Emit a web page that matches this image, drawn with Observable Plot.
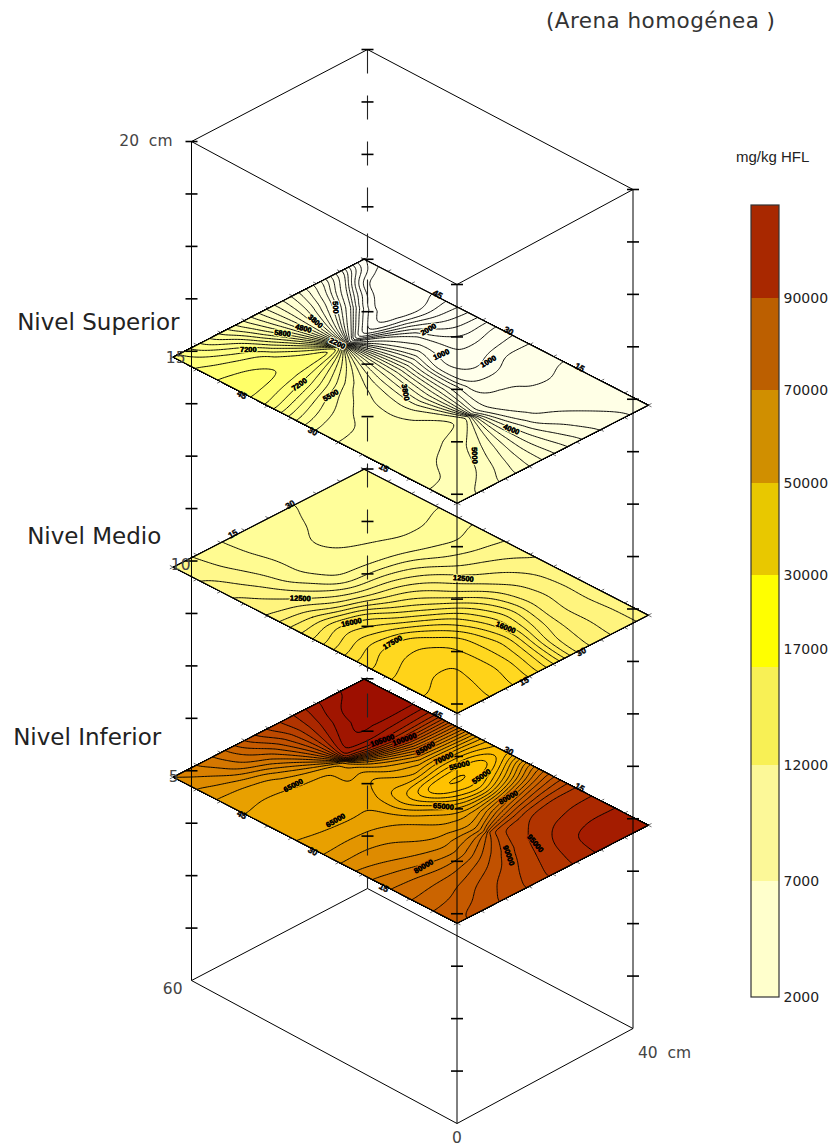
<!DOCTYPE html>
<html><head><meta charset="utf-8">
<script src="https://cdn.jsdelivr.net/npm/d3@7"></script>
<script src="https://cdn.jsdelivr.net/npm/@observablehq/plot@0.6"></script>
<style>
body{margin:0;background:#fff}
#wrap{position:relative;width:828px;height:1147px;overflow:hidden}
#wrap svg{position:absolute;left:0;top:0;display:block;background:transparent}
#title{position:absolute;left:546px;top:8px;font:21.5px "DejaVu Sans";color:#333;white-space:pre;letter-spacing:.45px}
#unit{position:absolute;left:736px;top:148px;font:15px "Liberation Sans";color:#222;white-space:pre}
</style></head><body>
<div id="wrap"><div id="title">(Arena homogénea )</div><div id="unit">mg/kg HFL</div></div>
<script>
// HFL concentration (mg/kg) read at the 5 cm nodes: rows 0-60 cm, columns 0-40 cm
const nivelSuperior = [
[4650,4410,4070,3600,3050,2520,2100,1860,1650],
[4800,4780,4450,3780,2950,2300,1880,1720,1640],
[4850,4820,4700,4200,2950,1800,1700,1650,1630],
[4900,4880,4870,4800,3500,1650,1600,1600,1620],
[4980,4960,4930,4800,2800,1600,1600,1580,1590],
[5080,5060,4900,4400,3000,1300,1200,1450,1420],
[5370,5220,4950,4550,3300,1300,1000,1020,1130],
[6200,5850,5350,4800,3600,1700,1000,850,850],
[7200,6900,6600,5800,3800,1600,900,650,600],
[7650,7600,7500,7500,4400,800,300,280,430],
[7560,7520,7400,6200,3900,1500,450,250,320],
[7250,7000,6500,5100,3850,2700,1200,350,300],
[7050,6300,5500,4700,3800,3000,2100,1100,450]];
const nivelMedio = [
[18800,18650,18200,17500,16100,13800,13200,12700,12300],
[18620,18700,18400,17800,16500,14000,13300,12750,12250],
[18280,18550,18550,17700,16900,14700,13300,12700,12200],
[17880,18150,18200,17800,16400,15100,13500,12800,12150],
[17160,17750,17800,16800,15800,14500,13300,12700,12100],
[16200,16700,16300,15400,14400,13400,12700,12300,11900],
[15000,15700,15300,14000,13500,12800,12000,11700,11500],
[14080,14000,13000,12500,12300,11900,11300,11000,11200],
[13000,12750,12000,11000,10950,10800,10600,10600,10800],
[12720,12200,11250,10700,10550,10450,10350,10350,10450],
[12420,11750,11200,10750,10450,10350,10300,10300,10350],
[12000,11500,11050,10700,10600,10420,10350,10300,10300],
[11700,11450,10980,10800,10650,10520,10400,10350,10300]];
const nivelInferior = [
[87000,89100,90700,93000,95700,98000,100700,102000,102500],
[85000,85500,88500,91000,94000,97000,100300,101500,101000],
[82200,82800,83200,86000,91500,95500,97500,98000,98500],
[79500,79000,77500,76500,84000,92000,95500,96500,96000],
[76300,75000,73500,72000,70500,73000,80000,85000,88000],
[72100,72500,72000,70500,67500,60000,56000,65000,77000],
[68800,69000,69000,68000,60000,50500,50500,51000,58000],
[67200,66500,66000,67400,62000,66000,62000,62000,63000],
[66500,66000,66200,67200,71000,74000,77500,79500,80000],
[67500,67000,67200,67600,78000,90000,100000,99000,98000],
[69500,69300,70000,76000,87500,103000,106000,106000,106000],
[72200,74500,80000,83000,90000,98500,105000,108000,107000],
[75000,78000,81500,88500,93500,97000,102000,104500,108000]];
// points where the contour lines of a level converge: [row, column, reach, power]
const focosSuperior = [[8.85,4.09,2.2,.4],[3.33,3.85,1.7,.45]];
const focosMedio = [];
const focosInferior = [[9.05,4.29,2.2,.4],[3.11,4.34,1.2,.6]];
const lineasSuperior = [...d3.range(400,1000,100),...d3.range(1000,1800,200),...d3.range(1800,7900,300)];
const lineasMedio = d3.range(10500,19000,500);
const lineasInferior = d3.range(52500,110000,2500);
// contour labels: [level, text, row, column, angle]
const etiquetas = [
[15,"7200",10.73,1.89,0],[15,"7200",8.21,1.53,-35],[15,"5500",7.1,1.74,-30],[15,"5800",10.67,3.26,8],
[15,"4800",10.43,3.9,15],[15,"3800",10.47,4.44,40],[15,"500",10.62,5.43,88],[15,"2200",9.1,4.0,25],
[15,"3800",5.65,3.43,80],[15,"2000",7.75,6.48,-30],[15,"1000",6.45,5.73,-25],[15,"1000",5.17,6.43,-30],
[15,"4000",1.89,4.14,22],[15,"5000",1.6,2.31,88],
[10,"12500",8.03,1.39,2],[10,"16000",5.96,1.48,-12],[10,"17500",4.27,1.53,-30],[10,"12500",5.41,5.62,5],[10,"16000",2.5,4.51,22],
[5,"65000",9.12,2.18,-28],[5,"65000",6.79,1.64,-30],[5,"105000",9.09,5.88,-20],[5,"100000",8.67,6.39,-20],
[5,"85000",7.86,6.46,-30],[5,"70000",7.06,6.43,-25],[5,"55000",6.44,6.48,-15],[5,"55000",5.52,6.49,-35],
[5,"65000",5.09,4.47,5],[5,"80000",4.09,6.2,-30],[5,"80000",3.04,1.61,-30],[5,"90000",1.7,3.84,70],[5,"95000",1.63,4.89,50]];
// side labels of each level: [level, text, row, column, angle]
const lados = [
[15,"45",9,-.1,30],[15,"30",6,-.1,30],[15,"15",3,-.1,30],[15,"45",9,8.1,30],[15,"30",6,8.1,30],[15,"15",3,8.1,30],
[10,"15",12.1,2.6,-30],[10,"30",12.1,5,-30],[10,"15",-.1,2.7,-30],[10,"30",-.1,5.1,-30],
[5,"45",9,-.1,30],[5,"30",6,-.1,30],[5,"15",3,-.1,30],[5,"45",9,8.1,30],[5,"30",6,8.1,30],[5,"15",3,8.1,30]];
const niveles = ["Nivel Superior","Nivel Medio","Nivel Inferior"];
const leyendaValores = [90000,70000,50000,30000,17000,12000,7000,2000];
const leyendaPos = [1,2,3,4,4.8,6,7,8];
const leyendaColores = ["#a82800","#bc5f00","#d08f00","#e8c800","#ffff00","#f8f055","#fcf898","#ffffcc"];

// oblique drawing of the 60 x 40 x 20 cm box and of the three sampled layers
const box = (a,b,z) => [456.5 - 4.425*a + 4.4*b, 1123 - 2.383*a - 2.375*b + .00125*a*b - 41.95*z];
const layer = (i,j,z) => [456.7 - 23.67*i + 23.875*j, 1132.7 - 42*z - 12.17*i - 12.25*j];

const K = 16;
function field(rows, focos){
  const n=rows.length, m=rows[0].length, w=(m-1)*K+1, h=(n-1)*K+1;
  const base=new Float64Array(w*h);
  for(let y=0;y<h;y++)for(let x=0;x<w;x++){
    const gi=y/K, gj=x/K, i0=Math.min(n-2,Math.floor(gi)), j0=Math.min(m-2,Math.floor(gj)), fi=gi-i0, fj=gj-j0;
    base[y*w+x]=(1-fi)*((1-fj)*rows[i0][j0]+fj*rows[i0][j0+1])+fi*((1-fj)*rows[i0+1][j0]+fj*rows[i0+1][j0+1]);
  }
  d3.blur2({data:base,width:w,height:h},K*.22);
  const at=(gi,gj)=>{
    const y=Math.max(0,Math.min(h-1.001,gi*K)), x=Math.max(0,Math.min(w-1.001,gj*K));
    const y0=Math.floor(y),x0=Math.floor(x),fy=y-y0,fx=x-x0;
    return (1-fy)*((1-fx)*base[y0*w+x0]+fx*base[y0*w+x0+1])+fy*((1-fx)*base[(y0+1)*w+x0]+fx*base[(y0+1)*w+x0+1]);
  };
  const out=new Float64Array(w*h);
  for(let y=0;y<h;y++)for(let x=0;x<w;x++){
    let gi=y/K, gj=x/K;
    for(const [ci,cj,R,p] of focos){
      const di=gi-ci, dj=gj-cj, r=Math.hypot(di,dj);
      if(r<R&&r>1e-6){const s=R*Math.pow(r/R,p)/r; gi=ci+di*s; gj=cj+dj*s; break;}
    }
    out[y*w+x]=at(gi,gj);
  }
  return {values:out,w,h};
}
function bands(rows,focos,lineas,z){
  const {values,w,h}=field(rows,focos);
  const low=d3.min(values)-1;
  const ts=[low,...lineas.filter(t=>t>low)];
  const imax=rows.length-1,jmax=rows[0].length-1;
  const mapRing=r=>r.map(([gx,gy])=>layer(Math.max(0,Math.min(imax,(gy-.5)/K)),Math.max(0,Math.min(jmax,(gx-.5)/K)),z));
  return d3.contours().size([w,h]).thresholds(ts)(values).map(c=>({
    type:"MultiPolygon",
    coordinates:c.coordinates.map(poly=>poly.map(mapRing)),
    z, band:c.value
  })).filter(c=>c.coordinates.length);
}
const superficies=[
  ...bands(nivelInferior,focosInferior,lineasInferior,5),
  ...bands(nivelMedio,focosMedio,lineasMedio,10),
  ...bands(nivelSuperior,focosSuperior,lineasSuperior,15)];

const L=60,W=40,H=20;
const seg=(p,q)=>({x1:p[0],y1:p[1],x2:q[0],y2:q[1]});
const aristas=[
 [[0,0,0],[L,0,0]],[[0,0,0],[0,W,0]],[[L,0,0],[L,W,0]],[[0,W,0],[L,W,0]],
 [[0,0,H],[L,0,H]],[[0,0,H],[0,W,H]],[[L,0,H],[L,W,H]],[[0,W,H],[L,W,H]]
].map(([p,q])=>seg(box(...p),box(...q)));
const verticales=[[0,0],[L,0],[0,W]].map(([a,b])=>seg(box(a,b,0),box(a,b,H)));
const atras=[seg(box(L,W,H),box(L,W,0))];
const marcas=[];
for(const [a,b] of [[0,0],[L,0],[0,W],[L,W]]) for(let k=1;k<=16;k++){
  const [x,y]=box(a,b,k*1.25); marcas.push({x1:x-6,x2:x+6,y1:y,y2:y});
}
const bordes=[],muescas=[];
for(const z of [5,10,15]){
  for(const [p,q] of [[[0,0],[12,0]],[[12,0],[12,8]],[[12,8],[0,8]],[[0,8],[0,0]]]) bordes.push(seg(layer(p[0],p[1],z),layer(q[0],q[1],z)));
  for(let i=0;i<=12;i++){muescas.push(seg(layer(i,0,z),layer(i,-.14,z)));muescas.push(seg(layer(i,8,z),layer(i,8.14,z)));}
  for(let j=0;j<=8;j++){muescas.push(seg(layer(0,j,z),layer(-.14,j,z)));muescas.push(seg(layer(12,j,z),layer(12.14,j,z)));}
}
const puntoEt=etiquetas.map(([z,t,i,j,ang])=>{const [x,y]=layer(i,j,z);return {x,y,t,ang,v:+t};});
const puntoLado=lados.map(([z,t,i,j,ang])=>{const [x,y]=layer(i,j,z);return {x,y,t,ang};});
const ejes=[
 {p:box(L,0,20),t:"20  cm",dx:-19,dy:0,a:"end"},
 {p:box(L,0,0),t:"60",dx:-9,dy:9,a:"end"},
 {p:box(0,W,0),t:"40  cm",dx:5,dy:25,a:"start"},
 {p:box(0,0,0),t:"0",dx:0,dy:14.5,a:"middle"},
 {p:box(L,0,15),t:"15",dx:-6,dy:7,a:"end"},
 {p:box(L,0,10),t:"10",dx:-1,dy:4,a:"end"},
 {p:box(L,0,5),t:"5",dx:-13,dy:6,a:"end"}
].map(d=>({x:d.p[0]+d.dx,y:d.p[1]+d.dy,t:d.t,a:d.a}));
const rotulos=niveles.map((t,n)=>{const [x,y]=layer(12,0,15-5*n);return {t,x:x+[-156,-146,-160][n],y:y+[-35,-31,-40][n]};});

const colorDom=[400,1000,2000,4000,5000,7000,7800,10000,12500,15000,17500,19000,52500,57500,60000,67500,75000,85000,92500,100000,107500];
const colorRan=["#fffff6","#ffffee","#ffffe0","#ffffc4","#ffffaa","#ffff78","#ffff5e","#ffff9e","#fff47e","#ffea50","#ffd820","#ffc80c","#ffc200","#fcbc00","#f6b400","#e8a000","#d98000","#c65a00","#b84000","#a41c00","#990800"];

const axisFont={x:"x",y:"y",text:"t",fill:"#444",fontSize:15.5,fontFamily:"DejaVu Sans"};
const main=Plot.plot({
  width:828,height:1147,margin:0,
  x:{domain:[0,828],range:[0,828],axis:null},
  y:{domain:[0,1147],range:[0,1147],axis:null},
  color:{type:"linear",domain:colorDom,range:colorRan,clamp:true},
  style:{background:"transparent"},
  marks:[
    Plot.link(aristas,{x1:"x1",y1:"y1",x2:"x2",y2:"y2",stroke:"#000",strokeWidth:1}),
    Plot.geo(superficies,{fill:d=>d.band,stroke:"#000",strokeWidth:.95,strokeLinejoin:"round"}),
    Plot.link(bordes,{x1:"x1",y1:"y1",x2:"x2",y2:"y2",stroke:"#000",strokeWidth:1.1}),
    Plot.link(muescas,{x1:"x1",y1:"y1",x2:"x2",y2:"y2",stroke:"#333",strokeWidth:.7}),
    Plot.link(verticales,{x1:"x1",y1:"y1",x2:"x2",y2:"y2",stroke:"#000",strokeWidth:1}),
    Plot.link(atras,{x1:"x1",y1:"y1",x2:"x2",y2:"y2",stroke:"#222",strokeWidth:1.1,strokeDasharray:"24 22"}),
    Plot.link(marcas,{x1:"x1",y1:"y1",x2:"x2",y2:"y2",stroke:"#000",strokeWidth:1.6}),
    Plot.text(puntoEt,{x:"x",y:"y",text:"t",rotate:"ang",fill:"#000",stroke:d=>d.v,strokeWidth:2.5,fontSize:7.5,fontWeight:"bold",fontFamily:"Liberation Sans"}),
    Plot.text(puntoEt,{x:"x",y:"y",text:"t",rotate:"ang",fill:"#000",stroke:"#000",strokeWidth:.35,fontSize:7.5,fontWeight:"bold",fontFamily:"Liberation Sans"}),
    Plot.text(puntoLado,{x:"x",y:"y",text:"t",rotate:"ang",fill:"#000",stroke:"#000",strokeWidth:.4,fontSize:8.5,fontWeight:"bold",fontFamily:"Liberation Sans"}),
    Plot.text(ejes.filter(d=>d.a==="end"),{...axisFont,textAnchor:"end"}),
    Plot.text(ejes.filter(d=>d.a==="start"),{...axisFont,textAnchor:"start"}),
    Plot.text(ejes.filter(d=>d.a==="middle"),{...axisFont,textAnchor:"middle"}),
    Plot.text(rotulos,{x:"x",y:"y",text:"t",textAnchor:"start",fill:"#222",fontSize:23,fontFamily:"DejaVu Sans"})
  ]
});
const idx=d3.range(8).map(i=>({y1:i,y2:i+1,c:leyendaColores[i]}));
const legend=Plot.plot({
  width:828,height:1147,margin:0,
  x:{domain:[0,1],range:[751,779],axis:null},
  y:{domain:[0,1,2,3,4,5,6,7,8],range:[205,298,390,483,575,667,765,881,997],type:"linear",axis:null},
  style:{background:"transparent"},
  marks:[
    Plot.rect(idx,{x1:0,x2:1,y1:"y1",y2:"y2",fill:"c"}),
    Plot.rect([{}],{x1:0,x2:1,y1:0,y2:8,fill:"none",stroke:"#333",strokeWidth:1.2}),
    Plot.text(leyendaValores,{x:1,y:(d,i)=>leyendaPos[i],text:d=>String(d),dx:4,textAnchor:"start",fill:"#222",fontSize:14,fontFamily:"DejaVu Sans"})
  ]
});
document.getElementById("wrap").append(main,legend);
</script></body></html>
